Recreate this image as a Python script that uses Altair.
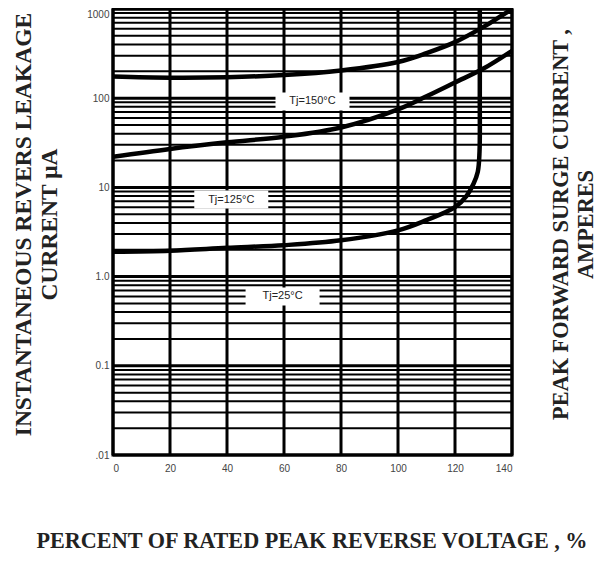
import altair as alt
import pandas as pd

# ---- data ----
x_ticks = [0, 20, 40, 60, 80, 100, 120, 140]
y_major = [0.01, 0.1, 1, 10, 100, 1000]
y_minor = [k * 10.0 ** n for n in range(-2, 3) for k in range(2, 10)]

t150_x = [0, 20, 40, 60, 80, 100, 110, 120, 130, 135, 140]
t150_y = [175, 170, 172, 182, 205, 255, 320, 425, 630, 790, 1000]

t125_x = [0, 20, 40, 60, 80, 100, 110, 120, 130, 140]
t125_y = [22, 27, 32, 37, 47, 75, 105, 150, 215, 340]

t25_x = [0, 20, 40, 60, 80, 100, 110, 120, 124, 126.5, 128, 128.6, 128.7, 128.7]
t25_y = [1.9, 1.95, 2.1, 2.25, 2.55, 3.3, 4.3, 6.0, 8.0, 11, 15, 25, 100, 1000]

lab_text = ["Tj=150°C", "Tj=125°C", "Tj=25°C"]
lab_x = [70, 41.5, 59.5]
lab_y = [92, 7.3, 0.6]

# ---- tables ----
hgrid = pd.DataFrame({"y": y_major + y_minor,
                      "w": [3.0] * len(y_major) + [2.0] * len(y_minor)})
vgrid = pd.DataFrame({"x": x_ticks})
rows = []
for name, xs, ys in [("150", t150_x, t150_y), ("125", t125_x, t125_y), ("25", t25_x, t25_y)]:
    for i, (a, b) in enumerate(zip(xs, ys)):
        rows.append({"s": name, "x": a, "y": b, "o": i})
curves = pd.DataFrame(rows)
labels = pd.DataFrame({"t": lab_text, "x": lab_x, "y": lab_y})

W, H = 399, 446
xsc = alt.Scale(domain=[0, 140], nice=False, zero=False)
ysc = alt.Scale(type="log", domain=[0.01, 1000], nice=False)

serif = "Liberation Serif"
sans = "Liberation Sans"

left_axis = alt.Axis(
    values=y_major, ticks=False, grid=False, domain=False,
    labelExpr="datum.value >= 10 ? format(datum.value, 'd') : datum.value > 0.5 ? '1.0' : datum.value > 0.05 ? '0.1' : '.01'",
    labelFont=sans, labelFontSize=10, labelColor="#444", labelPadding=4,
    labelBaseline={"condition": {"test": "datum.value >= 1000", "value": "top"}, "value": "middle"},
    title=["INSTANTANEOUS REVERS LEAKAGE", "CURRENT \u03bcA"],
    titleFont=serif, titleFontSize=23.5, titleFontWeight="bold", titleColor="#222",
    titleAngle=270, titleX=-102, titleY=215, titleAlign="center", titleBaseline="top",
    titleLineHeight=26,
)
right_axis = alt.Axis(
    orient="right", labels=False, ticks=False, grid=False, domain=False,
    title=["PEAK FORWARD SURGE CURRENT ,", "AMPERES"],
    titleFont=serif, titleFontSize=22.3, titleFontWeight="bold", titleColor="#222",
    titleAngle=270, titleX=37, titleY=215, titleAlign="center", titleBaseline="top",
    titleLineHeight=25,
)
bottom_axis = alt.Axis(
    values=x_ticks, ticks=False, grid=False, domain=False,
    labelFont=sans, labelFontSize=10, labelColor="#444", labelPadding=8,
    title="PERCENT OF RATED PEAK REVERSE VOLTAGE , %",
    titleFont=serif, titleFontSize=22.2, titleFontWeight="bold", titleColor="#222",
    titleY=85, titleBaseline="middle", titleAlign="center", titleX=W / 2 - 1,
)

h_layer = alt.Chart(hgrid).mark_rule(color="black").encode(
    y=alt.Y("y:Q", scale=ysc, axis=left_axis),
    strokeWidth=alt.StrokeWidth("w:Q", scale=None),
)
v_layer = alt.Chart(vgrid).mark_rule(color="black", strokeWidth=3).encode(
    x=alt.X("x:Q", scale=xsc, axis=bottom_axis),
)
r_layer = alt.Chart(vgrid).mark_rule(opacity=0).encode(
    y=alt.Y("x:Q", scale=ysc, axis=right_axis),
).transform_filter("datum.x > 0").transform_calculate(x="1")
c_layer = alt.Chart(curves).mark_line(color="black", strokeWidth=4.5, interpolate="catmull-rom", clip=True).encode(
    x=alt.X("x:Q", scale=xsc, axis=None),
    y=alt.Y("y:Q", scale=ysc, axis=None),
    detail="s:N",
    order="o:Q",
)
b_layer = alt.Chart(labels).mark_rect(color="white", width=74, height=18).encode(
    x=alt.X("x:Q", scale=xsc, axis=None),
    y=alt.Y("y:Q", scale=ysc, axis=None),
)
t_layer = alt.Chart(labels).mark_text(font=sans, fontSize=11, color="#222").encode(
    x=alt.X("x:Q", scale=xsc, axis=None),
    y=alt.Y("y:Q", scale=ysc, axis=None),
    text="t:N",
)

chart = alt.layer(h_layer, v_layer, r_layer, c_layer, b_layer, t_layer).resolve_axis(
    x="independent", y="independent"
).properties(
    width=W, height=H,
    autosize=alt.AutoSizeParams(type="none"),
    padding={"left": 105, "top": 1, "right": 86, "bottom": 99},
    background="white",
).configure_view(stroke="black", strokeWidth=3)

chart.save("out.html", embed_options={"renderer": "svg", "actions": False})
